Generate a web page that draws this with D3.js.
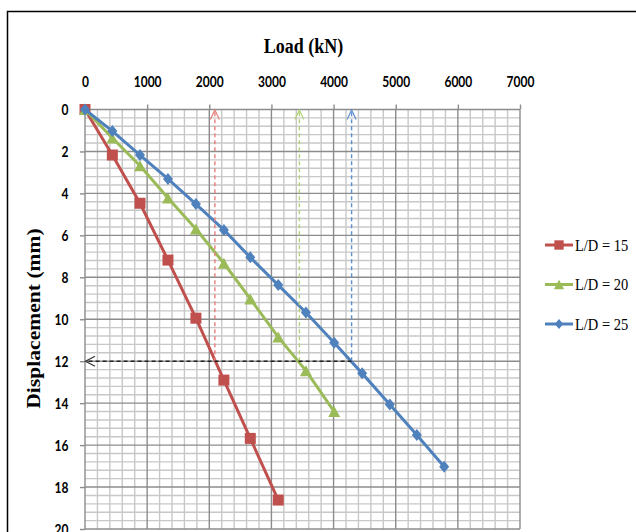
<!DOCTYPE html>
<html>
<head>
<meta charset="utf-8">
<script src="https://cdn.jsdelivr.net/npm/d3@7"></script>
<style>
  html, body { margin: 0; padding: 0; background: #fff; }
  svg { display: block; }
</style>
</head>
<body>
<svg id="chart" width="636" height="532"></svg>
<script>
// ---- data ----
const loads = [0, 440, 885, 1335, 1785, 2235, 2660, 3110, 3555, 4010, 4460, 4905, 5340, 5780]; // kN
const dispLD15 = [0, 2.17, 4.47, 7.18, 9.95, 12.90, 15.68, 18.62];                           // mm
const dispLD20 = [0, 1.36, 2.68, 4.22, 5.70, 7.33, 9.03, 10.85, 12.45, 14.40];
const dispLD25 = [0, 1.03, 2.17, 3.31, 4.51, 5.74, 7.05, 8.37, 9.68, 11.12, 12.58, 14.06, 15.52, 17.03];
const seriesNames = ["L/D = 15", "L/D = 20", "L/D = 25"];
const loadTicks = [0, 1000, 2000, 3000, 4000, 5000, 6000, 7000];
const dispTicks = [0, 2, 4, 6, 8, 10, 12, 14, 16, 18, 20];
const refDisp = 12;                        // settlement used to read the pile capacity
const capacityLoads = [2090, 3450, 4290];  // load at refDisp for each L/D

// ---- styles ----
const colors = ["#C0504D", "#9BBB59", "#4F81BD"];
const dashColors = ["#E5807C", "#B3D27A", "#5E8FCF"];
const markers = ["square", "triangle", "diamond"];
const stretch = 1.2; // text is drawn slightly taller than wide

const svg = d3.select("#chart");

const x = d3.scaleLinear().domain([0, 7000]).range([85, 520]);
const y = d3.scaleLinear().domain([0, 20]).range([109.5, 529]);

// outer frame (top and left edges)
svg.append("path")
  .attr("d", "M7.5,532 L7.5,11.5 L636,11.5")
  .attr("fill", "none").attr("stroke", "#000").attr("stroke-width", 1.5);

// ---- grid ----
const grid = svg.append("g");
const minorX = d3.range(0, 7001, 200).filter(v => v % 1000 !== 0);
const minorY = d3.range(0, 51).map(i => +(i * 0.4).toFixed(1)).filter(v => v <= 20 && Math.abs(v / 2 - Math.round(v / 2)) > 1e-6);

grid.selectAll(".mx").data(minorX).join("line")
  .attr("x1", d => x(d)).attr("x2", d => x(d))
  .attr("y1", y(0)).attr("y2", y(20))
  .attr("stroke", "#c8c8c8").attr("stroke-width", 1.4);
grid.selectAll(".my").data(minorY).join("line")
  .attr("x1", x(0)).attr("x2", x(7000))
  .attr("y1", d => y(d)).attr("y2", d => y(d))
  .attr("stroke", "#c8c8c8").attr("stroke-width", 1.4);
grid.selectAll(".Mx").data(loadTicks).join("line")
  .attr("x1", d => x(d)).attr("x2", d => x(d))
  .attr("y1", y(0)).attr("y2", y(20))
  .attr("stroke", "#8c8c8c").attr("stroke-width", 1.4);
grid.selectAll(".My").data(dispTicks).join("line")
  .attr("x1", x(0)).attr("x2", x(7000))
  .attr("y1", d => y(d)).attr("y2", d => y(d))
  .attr("stroke", "#8c8c8c").attr("stroke-width", 1.4);

// ---- axes ----
const tickFont = "Lato, 'Open Sans', sans-serif";

const xAxis = svg.append("g")
  .attr("transform", `translate(0,${y(0)})`)
  .call(d3.axisTop(x).tickValues(loadTicks).tickSize(5).tickFormat(d3.format("d")));
xAxis.select(".domain").remove();
xAxis.selectAll(".tick line").attr("stroke", "#8c8c8c").attr("stroke-width", 1.4);
xAxis.selectAll(".tick text")
  .attr("y", null).attr("dy", null)
  .attr("transform", `translate(0,-23) scale(1,${stretch})`)
  .attr("fill", "#000")
  .style("font-family", tickFont).style("font-size", "12px").style("font-weight", "700");

const yAxis = svg.append("g")
  .attr("transform", `translate(${x(0)},0)`)
  .call(d3.axisLeft(y).tickValues(dispTicks).tickSize(5).tickFormat(d3.format("d")));
yAxis.select(".domain").remove();
yAxis.selectAll(".tick line").attr("stroke", "#8c8c8c").attr("stroke-width", 1.4);
yAxis.selectAll(".tick text")
  .attr("x", null).attr("dy", "0.36em")
  .attr("transform", `translate(-16.5,0) scale(1,${stretch})`)
  .attr("fill", "#000")
  .style("font-family", tickFont).style("font-size", "12px").style("font-weight", "700");

// axis titles
svg.append("text")
  .attr("transform", `translate(${(x(0) + x(7000)) / 2 + 1},52.5) scale(1,${stretch})`)
  .attr("text-anchor", "middle")
  .style("font-family", "'Liberation Serif', 'Times New Roman', serif")
  .style("font-weight", "700").style("font-size", "18px")
  .text("Load (kN)");

svg.append("text")
  .attr("transform", `translate(39.5,318.5) rotate(-90) scale(${stretch},1)`)
  .attr("text-anchor", "middle")
  .style("font-family", "'Liberation Serif', 'Times New Roman', serif")
  .style("font-weight", "700").style("font-size", "18px")
  .text("Displacement (mm)");

// ---- marker shapes ----
function markerPath(kind, cx, cy, scale) {
  const s = scale || 1;
  if (kind === "square") {
    const h = 5.5 * s;
    return `M${cx - h},${cy - h}h${2 * h}v${2 * h}h${-2 * h}Z`;
  }
  if (kind === "triangle") {
    const w = 6 * s, h = 5.5 * s;
    return `M${cx},${cy - h}L${cx + w},${cy + h}L${cx - w},${cy + h}Z`;
  }
  const w = 5 * s, h = 6 * s;
  return `M${cx},${cy - h}L${cx + w},${cy}L${cx},${cy + h}L${cx - w},${cy}Z`;
}

// ---- series ----
const series = [dispLD15, dispLD20, dispLD25].map((disp, i) => ({
  name: seriesNames[i],
  points: disp.map((d, j) => ({ load: loads[j], disp: d }))
}));

const line = d3.line().x(d => x(d.load)).y(d => y(d.disp));

const plot = svg.append("g");
series.forEach((s, i) => {
  const g = plot.append("g");
  g.append("path")
    .attr("d", line(s.points))
    .attr("fill", "none")
    .attr("stroke", colors[i]).attr("stroke-width", 3)
    .attr("stroke-linejoin", "round");
  g.selectAll("path.m").data(s.points).join("path")
    .attr("class", "m")
    .attr("d", d => markerPath(markers[i], x(d.load), y(d.disp)))
    .attr("fill", colors[i]);
});

// ---- capacity read-off lines ----
const arrows = svg.append("g");
capacityLoads.forEach((c, i) => {
  const cx = x(c);
  arrows.append("line")
    .attr("x1", cx).attr("x2", cx)
    .attr("y1", y(refDisp)).attr("y2", y(0) + 1)
    .attr("stroke", dashColors[i]).attr("stroke-width", 1.4)
    .attr("stroke-dasharray", "4,3");
  arrows.append("path")
    .attr("d", `M${cx - 4.5},${y(0) + 10}L${cx},${y(0) + 0.5}L${cx + 4.5},${y(0) + 10}`)
    .attr("fill", "none").attr("stroke", dashColors[i]).attr("stroke-width", 1.2);
});
const maxCap = d3.max(capacityLoads);
arrows.append("line")
  .attr("x1", x(maxCap)).attr("x2", x(0) + 1)
  .attr("y1", y(refDisp)).attr("y2", y(refDisp))
  .attr("stroke", "#222").attr("stroke-width", 1.4)
  .attr("stroke-dasharray", "4,3");
arrows.append("path")
  .attr("d", `M${x(0) + 10},${y(refDisp) - 5}L${x(0) + 0.5},${y(refDisp)}L${x(0) + 10},${y(refDisp) + 5}`)
  .attr("fill", "none").attr("stroke", "#333").attr("stroke-width", 1.2);

// ---- legend ----
const legend = svg.append("g");
const legendY = [245, 284.5, 324];
series.forEach((s, i) => {
  const ly = legendY[i];
  legend.append("line")
    .attr("x1", 545).attr("x2", 573).attr("y1", ly).attr("y2", ly)
    .attr("stroke", colors[i]).attr("stroke-width", 3);
  legend.append("path")
    .attr("d", markerPath(markers[i], 559, ly, 0.85))
    .attr("fill", colors[i]);
  legend.append("text")
    .attr("transform", `translate(575,${ly + 5.8}) scale(1,${stretch})`)
    .style("font-family", "'Liberation Serif', 'Times New Roman', serif")
    .style("font-size", "14.5px")
    .text(s.name);
});
</script>
</body>
</html>
